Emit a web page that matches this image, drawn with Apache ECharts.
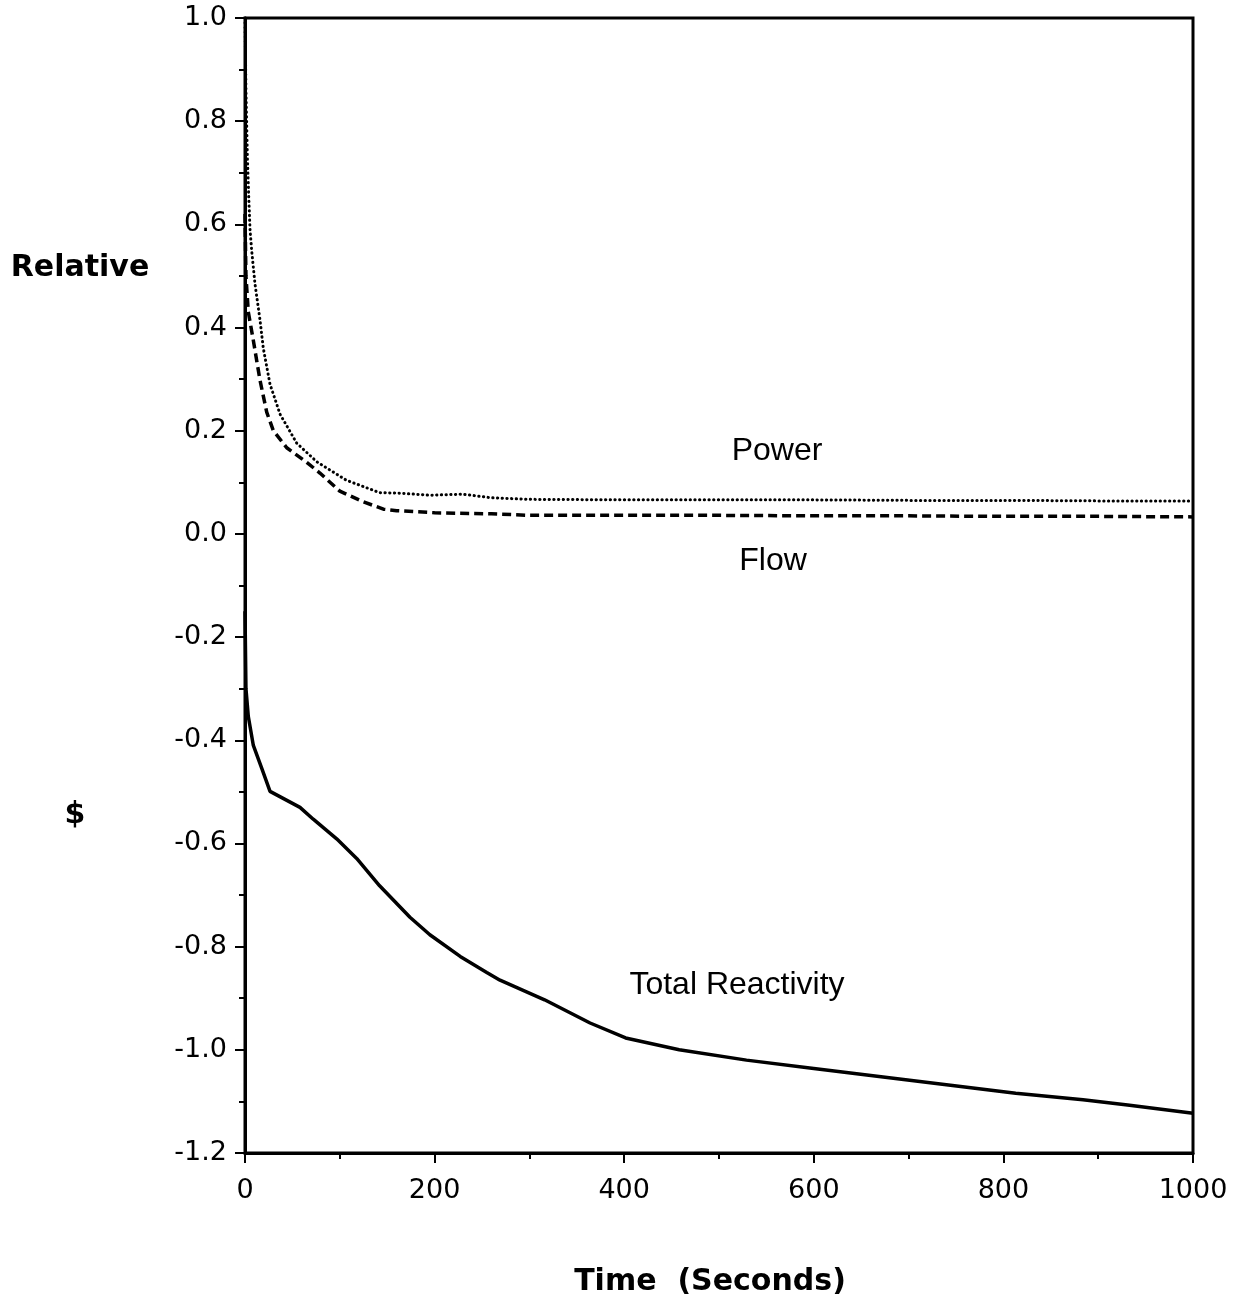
<!DOCTYPE html>
<html>
<head>
<meta charset="utf-8">
<script src="https://cdn.jsdelivr.net/npm/echarts@6/dist/echarts.min.js"></script>
<style>
html,body{margin:0;padding:0;background:#fff;}
#chart{width:1238px;height:1303px;}
</style>
</head>
<body>
<div id="chart"></div>
<script>
// Power (dotted)
var powerT = [0, 1, 2.5, 4, 5.3, 7, 10.5, 15.8, 19.3, 26.4, 37, 54.5, 75.6, 107, 142, 163, 195, 230, 260, 300, 400, 500, 600, 700, 800, 900, 1000];
var powerV = [1.0, 0.86, 0.73, 0.65, 0.59, 0.55, 0.485, 0.415, 0.36, 0.29, 0.232, 0.176, 0.14, 0.104, 0.08, 0.079, 0.075, 0.077, 0.07, 0.067, 0.066, 0.066, 0.066, 0.065, 0.065, 0.064, 0.064];
// Flow (dashed)
var flowT = [0, 1, 3.5, 8.8, 15.8, 22.9, 29.9, 44, 65, 79, 100, 125, 146, 160, 200, 260, 300, 400, 500, 600, 700, 800, 900, 1000];
var flowV = [0.62, 0.5, 0.43, 0.375, 0.298, 0.236, 0.2, 0.167, 0.139, 0.118, 0.083, 0.062, 0.048, 0.045, 0.041, 0.039, 0.036, 0.036, 0.036, 0.035, 0.035, 0.034, 0.034, 0.033];
// Total Reactivity (solid)
var reactT = [0, 1, 3.5, 8.8, 17.6, 26.4, 58, 72, 96.7, 117.8, 142, 174, 195, 227, 255, 269, 316, 364, 401.5, 458, 529, 600, 671, 742, 813, 884, 931, 1000];
var reactV = [-0.15, -0.3, -0.354, -0.41, -0.454, -0.499, -0.53, -0.553, -0.591, -0.629, -0.682, -0.743, -0.777, -0.819, -0.85, -0.865, -0.903, -0.948, -0.977, -1.0, -1.02, -1.036, -1.052, -1.068, -1.084, -1.097, -1.107, -1.123];

var xTicks = [0, 200, 400, 600, 800, 1000];
var yTicks = [-1.2, -1.0, -0.8, -0.6, -0.4, -0.2, 0.0, 0.2, 0.4, 0.6, 0.8, 1.0];

var labelPower = 'Power';
var labelFlow = 'Flow';
var labelReact = 'Total Reactivity';
var yName1 = 'Relative';
var yName2 = '$';
var xName = 'Time  (Seconds)';

function pairs(t, v) { return t.map(function (x, i) { return [x, v[i]]; }); }

var chart = echarts.init(document.getElementById('chart'), null, {renderer: 'canvas'});
var tickFont = {fontFamily: 'DejaVu Sans', fontSize: 27, color: '#000'};

chart.setOption({
  animation: false,
  backgroundColor: '#fff',
  grid: {left: 245, right: 45, top: 18, bottom: 150, show: true, borderColor: '#000', borderWidth: 3, backgroundColor: 'transparent'},
  xAxis: {
    type: 'value', min: xTicks[0], max: xTicks[xTicks.length - 1], interval: 200,
    axisLine: {show: true, onZero: false, lineStyle: {color: '#000', width: 3}},
    axisTick: {show: true, inside: false, length: 10, lineStyle: {color: '#000', width: 2}},
    minorTick: {show: true, splitNumber: 2, length: 6, lineStyle: {color: '#000', width: 2}},
    splitLine: {show: false},
    axisLabel: Object.assign({margin: 24, formatter: function (v) { return String(Math.round(v)); }}, tickFont)
  },
  yAxis: {
    type: 'value', min: yTicks[0], max: yTicks[yTicks.length - 1], interval: 0.2,
    axisLine: {show: true, onZero: false, lineStyle: {color: '#000', width: 3}},
    axisTick: {show: true, inside: false, length: 10, lineStyle: {color: '#000', width: 2}},
    minorTick: {show: true, splitNumber: 2, length: 6, lineStyle: {color: '#000', width: 2}},
    splitLine: {show: false},
    axisLabel: Object.assign({margin: 18, formatter: function (v) { var s = (Math.round(v * 10) / 10).toFixed(1); return s === '-0.0' ? '0.0' : s; }}, tickFont)
  },
  series: [
    {name: 'Power', type: 'line', showSymbol: false, data: pairs(powerT, powerV),
      lineStyle: {color: '#000', width: 3, type: [0.3, 4.4], cap: 'round'}},
    {name: 'Flow', type: 'line', showSymbol: false, data: pairs(flowT, flowV),
      lineStyle: {color: '#000', width: 3.5, type: [9, 5]}},
    {name: 'Total Reactivity', type: 'line', showSymbol: false, data: pairs(reactT, reactV),
      lineStyle: {color: '#000', width: 3.5}}
  ],
  graphic: [
    {type: 'text', x: 80, y: 268, style: {text: yName1, fill: '#000', font: 'bold 30px "DejaVu Sans"', align: 'center', verticalAlign: 'middle'}},
    {type: 'text', x: 75, y: 815, style: {text: yName2, fill: '#000', font: 'bold 30px "DejaVu Sans"', align: 'center', verticalAlign: 'middle'}},
    {type: 'text', x: 710, y: 1282, style: {text: xName, fill: '#000', font: 'bold 30px "DejaVu Sans"', align: 'center', verticalAlign: 'middle'}},
    {type: 'text', x: 777, y: 451, style: {text: labelPower, fill: '#000', font: '32px "Liberation Sans"', align: 'center', verticalAlign: 'middle'}},
    {type: 'text', x: 773, y: 561, style: {text: labelFlow, fill: '#000', font: '32px "Liberation Sans"', align: 'center', verticalAlign: 'middle'}},
    {type: 'text', x: 737, y: 985, style: {text: labelReact, fill: '#000', font: '32px "Liberation Sans"', align: 'center', verticalAlign: 'middle'}}
  ]
});
</script>
</body>
</html>
